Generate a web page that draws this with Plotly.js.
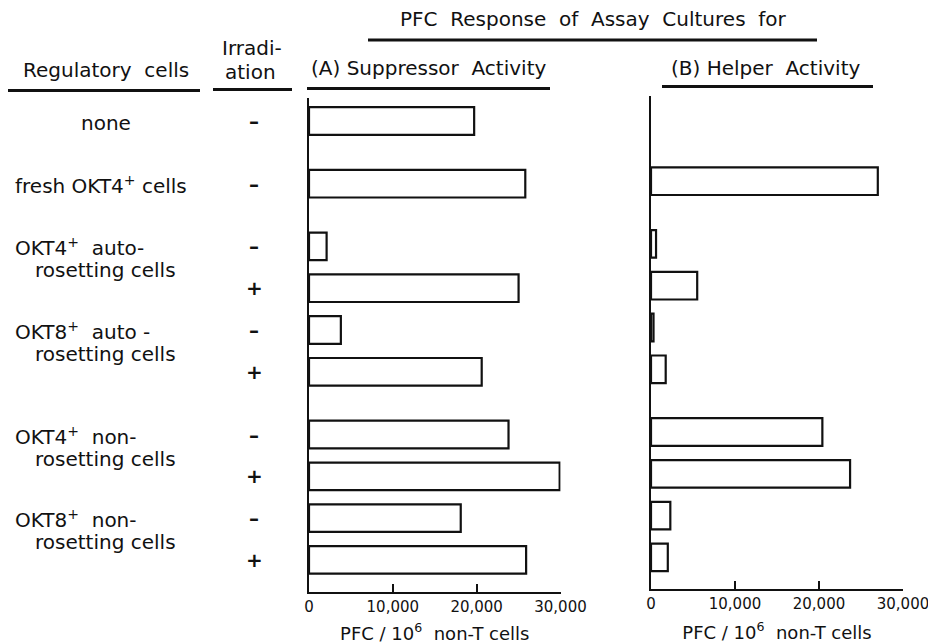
<!DOCTYPE html>
<html>
<head>
<meta charset="utf-8">
<script src="https://cdn.plot.ly/plotly-3.0.1.min.js"></script>
<style>html,body{margin:0;padding:0;background:#fff;}#chart{width:928px;height:644px;}</style>
</head>
<body>
<div id="chart"></div>
<script>
// ---- data ----
const groupLine1 = ['none', 'fresh OKT4<sup>+</sup> cells', 'OKT4<sup>+</sup>  auto-', 'OKT8<sup>+</sup>  auto -', 'OKT4<sup>+</sup>  non-', 'OKT8<sup>+</sup>  non-'];
const groupLine2 = ['', '', 'rosetting cells', 'rosetting cells', 'rosetting cells', 'rosetting cells'];
const groupFirstRow = [0, 1, 2, 4, 6, 8];
const irradiation = ['–', '–', '–', '+', '–', '+', '–', '+', '–', '+'];
const suppressor = [19700, 25800, 2100, 25000, 3800, 20600, 23800, 29900, 18100, 25900];
const helper = [null, 27000, 600, 5500, 300, 1750, 20400, 23700, 2300, 2000];
const tickVals = [0, 10000, 20000, 30000];
const tickText = ['0', '10,000', '20,000', '30,000'];

// ---- layout constants ----
const rowSlot = [0, 3, 6, 8, 10, 12, 15, 17, 19, 21];
const W = 928, H = 644;
const FONT = 'DejaVu Sans';
const px = v => v / W;
const py = v => 1 - v / H;

const barStyle = {color: '#ffffff', line: {color: '#111', width: 2.2}};
const traces = [
  {type: 'bar', orientation: 'h', x: suppressor, y: rowSlot, width: 1.32, marker: barStyle, xaxis: 'x', yaxis: 'y', hoverinfo: 'x'},
  {type: 'bar', orientation: 'h', x: helper, y: rowSlot, width: 1.32, marker: barStyle, xaxis: 'x2', yaxis: 'y2', hoverinfo: 'x'}
];

const yRange = [22.52, -1.1];
const xAxisCommon = {
  range: [0, 30000], showline: true, linewidth: 2.2, linecolor: '#111',
  ticks: 'inside', ticklen: 8, tickwidth: 2.2, tickcolor: '#111',
  tickvals: tickVals, ticktext: tickText, showgrid: false, zeroline: false,
  ticklabeloverflow: 'allow',
  tickfont: {family: FONT, size: 15, color: '#111'},
  title: {text: 'PFC / 10<sup>6</sup>  non-T cells', font: {family: FONT, size: 18, color: '#111'}, standoff: 14}
};
const yAxisCommon = {
  range: yRange, showline: true, linewidth: 2.2, linecolor: '#111',
  showticklabels: false, ticks: '', showgrid: false, zeroline: false
};

const annotations = [];
function txt(text, x, y, size, xanchor, yref) {
  annotations.push({text: text, x: x, y: y, xref: 'paper', yref: yref || 'paper', showarrow: false,
    xanchor: xanchor || 'center', yanchor: 'middle', font: {family: FONT, size: size, color: '#111'}});
}
const HS = 20; // header size
const LS = 20; // label size
// headers
txt('PFC  Response  of  Assay  Cultures  for', px(593), py(19), HS);
txt('Regulatory  cells', px(106), py(70), HS);
txt('Irradi-', px(252), py(48), HS);
txt('ation', px(250), py(72), HS);
txt('(A) Suppressor  Activity', px(428), py(68), HS);
txt('(B) Helper  Activity', px(765), py(68), HS);
// row labels
groupFirstRow.forEach((r, i) => {
  const s = rowSlot[r];
  if (i === 0) {
    txt(groupLine1[i], px(106), s + 0.1, LS, 'center', 'y');
  } else {
    txt(groupLine1[i], px(13), s + 0.05, LS, 'left', 'y');
  }
  if (groupLine2[i]) txt(groupLine2[i], px(33), s + 1.15, LS, 'left', 'y');
});
// irradiation marks
irradiation.forEach((m, i) => {
  txt('<b>' + m + '</b>', px(254), rowSlot[i], 20, 'center', 'y');
});

function uline(x0, x1, y) {
  return {type: 'line', xref: 'paper', yref: 'paper', x0: px(x0), x1: px(x1), y0: py(y), y1: py(y),
    line: {color: '#111', width: 3}};
}
const shapes = [
  uline(368, 817, 40),
  uline(8, 200, 90.5),
  uline(213, 292, 89.5),
  uline(307, 550, 88.5),
  uline(662, 873, 86.5)
];

const layout = {
  width: W, height: H, margin: {l: 0, r: 0, t: 0, b: 0},
  paper_bgcolor: '#fff', plot_bgcolor: 'rgba(0,0,0,0)', showlegend: false,
  font: {family: FONT, color: '#111'},
  xaxis: Object.assign({}, xAxisCommon, {domain: [px(309), px(560.5)], anchor: 'y'}),
  yaxis: Object.assign({}, yAxisCommon, {domain: [py(591.7), py(98)], anchor: 'x'}),
  xaxis2: Object.assign({}, xAxisCommon, {domain: [px(651), px(903)], anchor: 'y2'}),
  yaxis2: Object.assign({}, yAxisCommon, {domain: [py(589.2), py(95.5)], anchor: 'x2'}),
  annotations: annotations, shapes: shapes
};
Plotly.newPlot('chart', traces, layout, {displayModeBar: false, staticPlot: true});
</script>
</body>
</html>
